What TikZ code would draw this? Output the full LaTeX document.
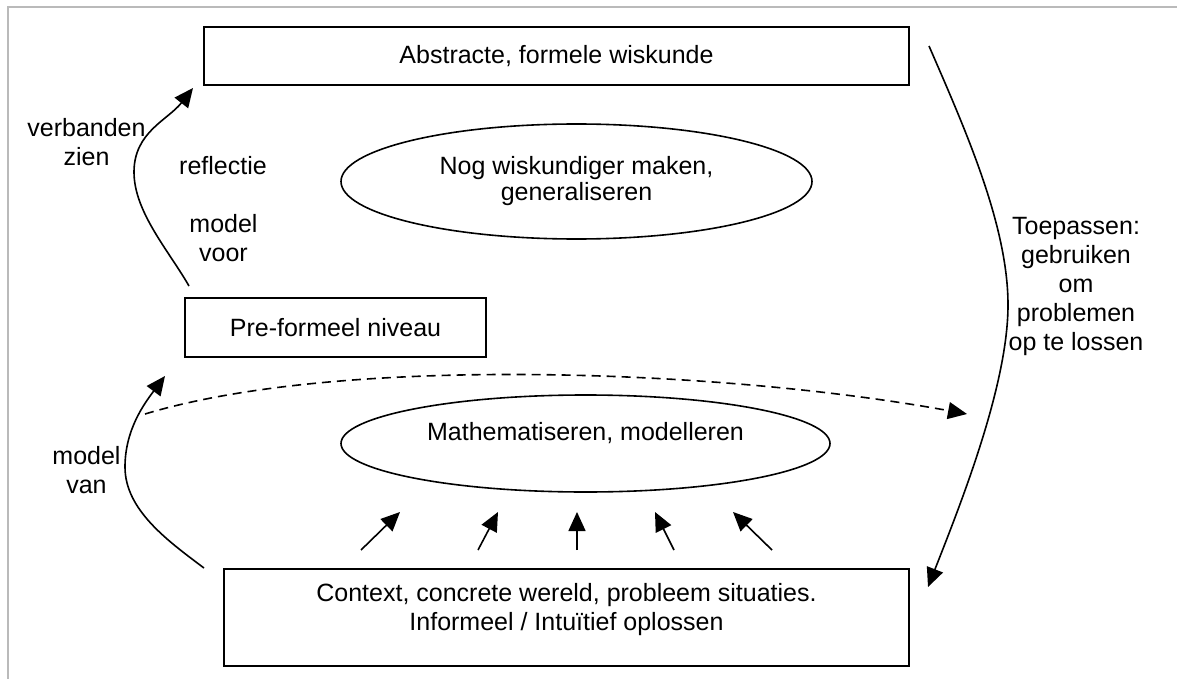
\documentclass[tikz,border=0pt]{standalone}
\usepackage{fontspec}
\setmainfont{Liberation Sans}
\usetikzlibrary{arrows.meta,shapes.geometric}
\tikzset{
  txt/.style={font=\fontsize{25}{29}\selectfont, align=center, inner sep=0pt},
  boxnode/.style={draw, line width=1.8pt, inner sep=0pt, font=\fontsize{25}{29}\selectfont, align=center},
  ellnode/.style={ellipse, draw, line width=1.6pt, inner sep=0pt, font=\fontsize{25}{29}\selectfont, align=center},
  conn/.style={line width=1.6pt, -{Triangle[length=19pt,width=17pt]}},
  dconn/.style={conn, dash pattern=on 9pt off 6pt},
  frame/.style={draw=black!27, line width=1.5pt}
}
\begin{document}
\begin{tikzpicture}[x=1pt,y=-1pt]
\useasboundingbox (0,0) rectangle (1177,679);
% page frame
\draw[frame] (8,679) -- (8,7) -- (1177,7);

% boxes
\node[boxnode, minimum width=705pt, minimum height=58pt] (abs) at (556.5,56) {Abstracte, formele wiskunde};
\node[boxnode, minimum width=301pt, minimum height=59pt] (pre) at (335.5,327.5) {Pre-formeel niveau};
\node[boxnode, minimum width=685pt, minimum height=97pt] (ctx) at (566.5,617.5) {};
\node[txt, anchor=north] (ctxt) at ([yshift=-15pt]ctx.north) {Context, concrete wereld, probleem situaties.\\Informeel / Intuïtief oplossen};

% ellipses
\node[ellnode, minimum width=471pt, minimum height=115pt] (gen) at (576.5,181.5) {Nog wiskundiger maken,\\[-3pt]generaliseren};
\node[ellnode, minimum width=489pt, minimum height=97pt, text height=18pt, text depth=25pt] (mat) at (585.5,443.5) {Mathematiseren, modelleren};

% labels
\node[txt] (lverb) at (86.5,142.5) {verbanden\\zien};
\node[txt] (lrefl) at (223,166) {reflectie};
\node[txt] (lvoor) at (223.5,238.5) {model\\voor};
\node[txt] (lvan) at (86.5,470) {model\\van};
\node[txt] (ltoe) at (1076,286.5) {Toepassen:\\gebruiken\\om\\problemen\\op te lossen};

% connector end points
\coordinate (vzS) at (189,286);
\coordinate (vzM) at (134,172);
\coordinate (vzE) at (193,88);
\coordinate (mvS) at (204,568);
\coordinate (mvM) at (125,467);
\coordinate (mvE) at (165,376);
\coordinate (dS) at (145,414);
\coordinate (dE) at (967,414);
\coordinate (tS) at (929,46);
\coordinate (tM) at (1008,305);
\coordinate (tE) at (928,587);

% curved arrows
\draw[conn] (vzS) .. controls (169,251) and (134,212) .. (vzM)
                  .. controls (134,132) and (168,120) .. (vzE);
\draw[conn] (mvS) .. controls (168,541) and (125,510) .. (mvM)
                  .. controls (125,430) and (144,404) .. (mvE);
\draw[dconn] (dS) .. controls (340,355) and (720,369) .. (dE);
\draw[conn] (tS) .. controls (965,129) and (1008,225) .. (tM)
                 .. controls (1008,385) and (961,503) .. (tE);

% small arrows from context to mathematising
\coordinate (a1s) at (361,550); \coordinate (a1e) at (400,512);
\coordinate (a2s) at (478,550); \coordinate (a2e) at (498,512);
\coordinate (a3s) at (577,550); \coordinate (a3e) at (577,512);
\coordinate (a4s) at (674,550); \coordinate (a4e) at (655,512);
\coordinate (a5s) at (772,550); \coordinate (a5e) at (733,512);
\foreach \i in {1,...,5} {
  \draw[conn] (a\i s) -- (a\i e);
}
\end{tikzpicture}
\end{document}
